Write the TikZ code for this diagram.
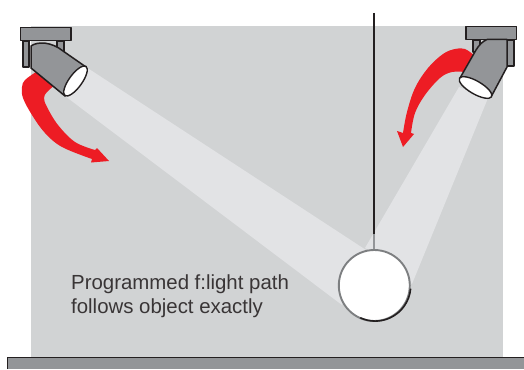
\documentclass[tikz,border=0pt]{standalone}
\usepackage{fontspec}
\setmainfont{Liberation Sans}
\definecolor{wall}{HTML}{D1D3D4}
\definecolor{beam}{HTML}{E2E3E5}
\definecolor{metal}{HTML}{939598}
\definecolor{ink}{HTML}{231F20}
\definecolor{redarrow}{HTML}{ED1C24}
\tikzset{
  metalpart/.style={fill=metal,draw=ink,line width=1.5pt,line join=round},
  lens/.style={fill=white,draw=ink,line width=1.4pt,ellipse,inner sep=0pt},
  redshape/.style={fill=redarrow,draw=none},
  lightbeam/.style={fill=beam,draw=none},
  caption/.style={align=left,anchor=north west,inner sep=0pt,text=ink!90,font=\fontsize{20.4}{23.5}\selectfont}
}
\usetikzlibrary{shapes.geometric}
\begin{document}
\begin{tikzpicture}[x=1pt,y=-1pt]
\useasboundingbox (0,0) rectangle (524,369);
\fill[wall] (31,26) rectangle (503,358);
% beams
\fill[lightbeam] (86,67) -- (366,250) -- (342,305) -- (65,96) -- cycle;
\fill[lightbeam] (459,87) -- (365,248) -- (385,260) -- (412,284) -- (488,98) -- cycle;
% floor
\fill[metal] (7.5,357.5) rectangle (524,369);
\draw[ink,line width=1.6pt] (7.5,369) -- (7.5,357.5) -- (524,357.5);
% cord and ball
\draw[ink,line width=1.6pt] (374,13) -- (374,234);
\draw[metal,line width=1.6pt] (374,234) -- (374,250);
\node[circle,fill=white,draw=metal!85!black,line width=1.9pt,minimum size=71pt,inner sep=0pt] (ball) at (374.3,285.5) {};
\draw[ink,line width=1.6pt] (ball.-5) arc[start angle=-5,end angle=-115,radius=35.5pt];
% red arrow left
\fill[redshape] plot[smooth,tension=0.6] coordinates {(36,72) (25,80) (22,87) (23,98) (32,115) (45,133) (62,147) (92,159)}
  -- (91,162.5) -- (109,161) -- (97,148) -- (95,150)
  -- plot[smooth,tension=0.6] coordinates {(95,150) (75,142) (58,125) (47,107) (44,98) (47,92) (55,85)} -- cycle;
% red arrow right
\fill[redshape] plot[smooth,tension=0.6] coordinates {(475,56) (465,49) (455,49) (443,54) (428,68) (415,88) (407,112) (403,133)}
  -- (397,131) -- (403,147) -- (414,134) -- (411,133)
  -- plot[smooth,tension=0.6] coordinates {(411,133) (415,113) (425,95) (440,78) (452,72) (465,72)} -- cycle;
% left lamp
\draw[metalpart] (23,41) rectangle (29,67);
\draw[metalpart] (57,41) rectangle (64,52);
\draw[metalpart] (20.5,27.5) rectangle (71,40.5);
\draw[metalpart] (31,68) -- (31,46) .. controls (38,41) and (52,42) .. (63,51) -- (86,67) -- (65,96) -- cycle;
\node[lens,minimum width=36pt,minimum height=13pt,rotate=54] (lensL) at (75.5,81) {};
% right lamp
\draw[metalpart] (473,40) rectangle (480,52);
\draw[metalpart] (507,40) rectangle (514,66);
\draw[metalpart] (466,26.5) rectangle (516.5,39.5);
\draw[metalpart] (487,39.5) -- (507,39.5) -- (507,67) -- (491,97) -- (460,78) -- (476,50) .. controls (479,45) and (483,41) .. (487,39.5) -- cycle;
\node[lens,minimum width=37pt,minimum height=13pt,rotate=-30] (lensR) at (475.5,87.5) {};
% caption
\node[caption] (cap) at (71,275) {Programmed f:light path\\follows object exactly};
\end{tikzpicture}
\end{document}
